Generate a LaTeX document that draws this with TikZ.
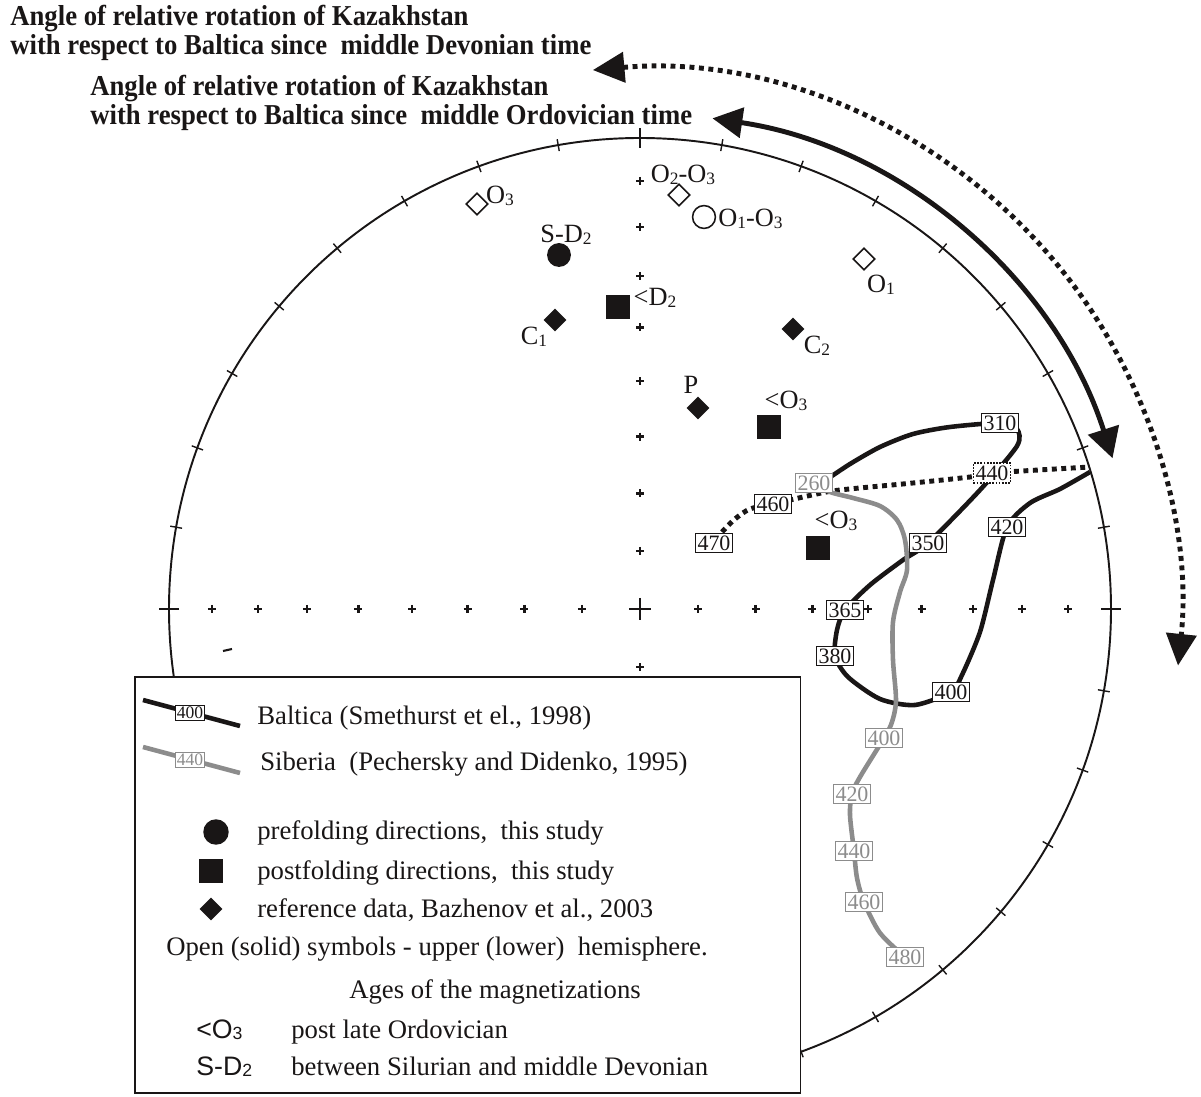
\documentclass[tikz,border=0pt]{standalone}
\usepackage{fontspec}
\setmainfont{Liberation Serif}
\newfontfamily\sansf{Liberation Sans}
\usetikzlibrary{arrows.meta,shapes.geometric}
\definecolor{sibgray}{RGB}{140,140,140}
\definecolor{ink}{RGB}{25,22,22}
\newcommand\sub[1]{\raisebox{-0.9pt}{\scalebox{0.66}{#1}}}
\newcommand\tl[1]{\scalebox{1}[1.08]{#1}}
\begin{document}
\begin{tikzpicture}[x=0.02cm,y=-0.02cm,
  every node/.style={inner sep=0pt},
  ttl/.style={font=\fontsize{15.2}{17}\selectfont\bfseries,anchor=base west,text=ink},
  lbl/.style={font=\fontsize{15}{16}\selectfont,text=ink},
  leg/.style={font=\fontsize{15.2}{17}\selectfont,anchor=base west,text=ink},
  legs/.style={font=\fontsize{15.2}{17}\selectfont\sansf,anchor=base west,text=ink},
  agebox/.style={draw,line width=0.6pt,fill=white,font=\fontsize{12.5}{13}\selectfont,
     inner xsep=1.2pt,inner ysep=1.2pt,text height=8.6pt,text depth=0.3pt},
  bbox/.style={agebox,draw=ink,text=ink},
  sbox/.style={agebox,draw=sibgray,text=sibgray},
  dbox/.style={agebox,draw=ink,text=ink,dash pattern=on 1pt off 0.8pt,line width=0.8pt},
  smallbox/.style={font=\fontsize{10}{11}\selectfont,text height=7pt,inner xsep=0.8pt,inner ysep=0.8pt},
  baltica/.style={line width=2.6pt,draw=ink},
  siberia/.style={line width=2.6pt,draw=sibgray},
  dotpath/.style={line width=2.8pt,draw=ink,dash pattern=on 2.8pt off 2.6pt},
  fsq/.style={rectangle,fill=ink,minimum size=13.6pt},
  fci/.style={circle,fill=ink,minimum size=13.6pt},
  fdi/.style={diamond,fill=ink,minimum size=13.2pt},
  odi/.style={diamond,draw=ink,fill=white,line width=0.9pt,minimum size=12.6pt},
  oci/.style={circle,draw=ink,fill=white,line width=0.9pt,minimum size=13pt},
  pl/.style={line width=1.4pt,draw=ink}
]
\useasboundingbox (0,0) rectangle (1201,1097);
\coordinate (C) at (640,609);

% titles
\node[ttl] (t1) at (10,26) {\tl{Angle of relative rotation of Kazakhstan}};
\node[ttl] (t2) at (10,55) {\tl{with respect to Baltica since\ \ middle Devonian time}};
\node[ttl] (t3) at (90,96) {\tl{Angle of relative rotation of Kazakhstan}};
\node[ttl] (t4) at (90,125) {\tl{with respect to Baltica since\ \ middle Ordovician time}};

% rotation arcs
\draw[dotpath,{Triangle[length=18pt,width=17pt]}-{Triangle[length=18pt,width=17pt]}]
  (C) ++(-95:541) arc[start angle=-95,end angle=6,radius=541];
\draw[line width=2.8pt,draw=ink,{Triangle[length=17pt,width=17pt]}-{Triangle[length=17pt,width=18pt]}]
  (C) ++(-81.6:496) arc[start angle=-81.6,end angle=-17.7,radius=496];

% net circle
\draw[line width=1.1pt,draw=ink] (C) circle[radius=471];
\foreach \a in {10,20,...,80,100,110,...,170,190,200,...,260,280,290,...,350}
  \draw[line width=0.8pt,draw=ink] (C) ++(\a:465) -- ++(\a:12);
\foreach \a in {0,90,180,270}
  \draw[line width=1.7pt,draw=ink] (C) ++(\a:461) -- ++(\a:20);
% grid crosses (equal-area)
\foreach \k in {1,...,8}{
  \pgfmathsetmacro\r{471*sqrt(2)*sin((90-10*\k)/2)}
  \foreach \a in {0,90,180,270}{
    \draw[pl] (C) ++(\a:\r) ++(-4,0) -- ++(8,0);
    \draw[pl] (C) ++(\a:\r) ++(0,-4) -- ++(0,8);
  }
}
\draw[line width=1.7pt,draw=ink] (629,609) -- (651,609) (640,598) -- (640,620);
\draw[line width=1.2pt,draw=ink] (223,651) -- (232,649);

% label positions
\coordinate (b260) at (814,483);
\coordinate (b310) at (1000,423);
\coordinate (b350) at (928,543);
\coordinate (b365) at (845,610);
\coordinate (b380) at (835,656);
\coordinate (b400) at (951,692);
\coordinate (b420) at (1007,527);
\coordinate (d470) at (714,543);
\coordinate (d460) at (773,504);
\coordinate (d440) at (992,473);
\coordinate (s400) at (884,738);
\coordinate (s420) at (852,794);
\coordinate (s440) at (854,851);
\coordinate (s460) at (864,902);
\coordinate (s480) at (905,957);

% paths
\draw[dotpath] plot[smooth,tension=0.5] coordinates {(722,532) (735,519) (750,509) (d460) (812,495) (840,490) (913,483) (970,477) (d440) (1090,467)};
\draw[baltica,line join=round] plot[smooth,tension=0.45] coordinates {(826,480) (850,464) (880,447) (913,434) (950,427) (b310) (1017,429) (1017,446) (980,490) (b350) (903,560) (870,585) (b365) (837,630) (b380) (848,677) (880,699) (915,705) (b400) (962,675) (980,632) (993,580) (b420) (1030,503) (1060,489) (1090,472)};
\draw[siberia] plot[smooth,tension=0.5] coordinates {(b260) (830,492) (853,498) (880,506) (897,520) (905,540) (907,570) (900,592) (893,622) (893,660) (896,700) (892,722) (s400) (860,777) (s420) (850,815) (s440) (857,878) (s460) (880,933) (s480)};

% age boxes
\node[sbox] (n260) at (b260) {260};
\node[bbox] (n310) at (b310) {310};
\node[bbox] (n350) at (b350) {350};
\node[bbox] (n365) at (b365) {365};
\node[bbox] (n380) at (b380) {380};
\node[bbox] (n400) at (b400) {400};
\node[bbox] (n420) at (b420) {420};
\node[bbox] (n470) at (d470) {470};
\node[bbox] (n460) at (d460) {460};
\node[dbox] (n440) at (d440) {440};
\node[sbox] (m400) at (s400) {400};
\node[sbox] (m420) at (s420) {420};
\node[sbox] (m440) at (s440) {440};
\node[sbox] (m460) at (s460) {460};
\node[sbox] (m480) at (s480) {480};

% data symbols
\node[odi] (sO3) at (477,204) {};
\node[lbl] (lO3) at (500,196) {O\sub{3}};
\node[odi] (sO23) at (679,195) {};
\node[lbl] (lO23) at (683,175) {O\sub{2}-O\sub{3}};
\node[oci] (sO13) at (704,217) {};
\node[lbl,anchor=west] (lO13) at (718,219) {O\sub{1}-O\sub{3}};
\node[odi] (sO1) at (864,259) {};
\node[lbl] (lO1) at (881,285) {O\sub{1}};
\node[fci] (sSD) at (559,255) {};
\node[lbl] (lSD) at (566,235) {S-D\sub{2}};
\node[fsq] (sD2) at (618,307) {};
\node[lbl] (lD2) at (655,298) {<D\sub{2}};
\node[fdi] (sC1) at (555,320) {};
\node[lbl] (lC1) at (534,337) {C\sub{1}};
\node[fdi] (sC2) at (793,329) {};
\node[lbl] (lC2) at (817,346) {C\sub{2}};
\node[fdi] (sP) at (698,408) {};
\node[lbl] (lP) at (691,385) {P};
\node[fsq] (sO3a) at (769,427) {};
\node[lbl] (lO3a) at (786,401) {<O\sub{3}};
\node[fsq] (sO3b) at (818,548) {};
\node[lbl] (lO3b) at (836,521) {<O\sub{3}};

% legend
\node[draw=ink,fill=white,line width=1.1pt,anchor=north west,minimum width=378.8pt,minimum height=236.9pt] (legend) at (134,676) {};
\draw[baltica] (143,700) -- (240,726);
\node[bbox,smallbox] (k400) at (190,713) {400};
\node[leg] (kb) at (257,725) {Baltica (Smethurst et el., 1998)};
\draw[siberia] (143,747) -- (240,773);
\node[sbox,smallbox] (k440) at (190,760) {440};
\node[leg] (ks) at (260,771) {Siberia\ \ (Pechersky and Didenko, 1995)};
\node[fci,minimum size=14.5pt] (kc) at (216,832) {};
\node[leg] (kct) at (257,840) {prefolding directions,\ \ this study};
\node[fsq] (ksq) at (211,871) {};
\node[leg] (ksqt) at (257,880) {postfolding directions,\ \ this study};
\node[fdi] (kdi) at (211,909) {};
\node[leg] (kdit) at (257,918) {reference data, Bazhenov et al., 2003};
\node[leg,anchor=base] (kopen) at (437,956) {Open (solid) symbols - upper (lower)\ \ hemisphere.};
\node[leg,anchor=base] (kages) at (495,999) {Ages of the magnetizations};
\node[legs] (ko3) at (196,1038) {<O\sub{3}};
\node[leg] (ko3t) at (291,1038) {post late Ordovician};
\node[legs] (ksd) at (196,1075) {S-D\sub{2}};
\node[leg] (ksdt) at (291,1075) {between Silurian and middle Devonian};
\end{tikzpicture}
\end{document}
